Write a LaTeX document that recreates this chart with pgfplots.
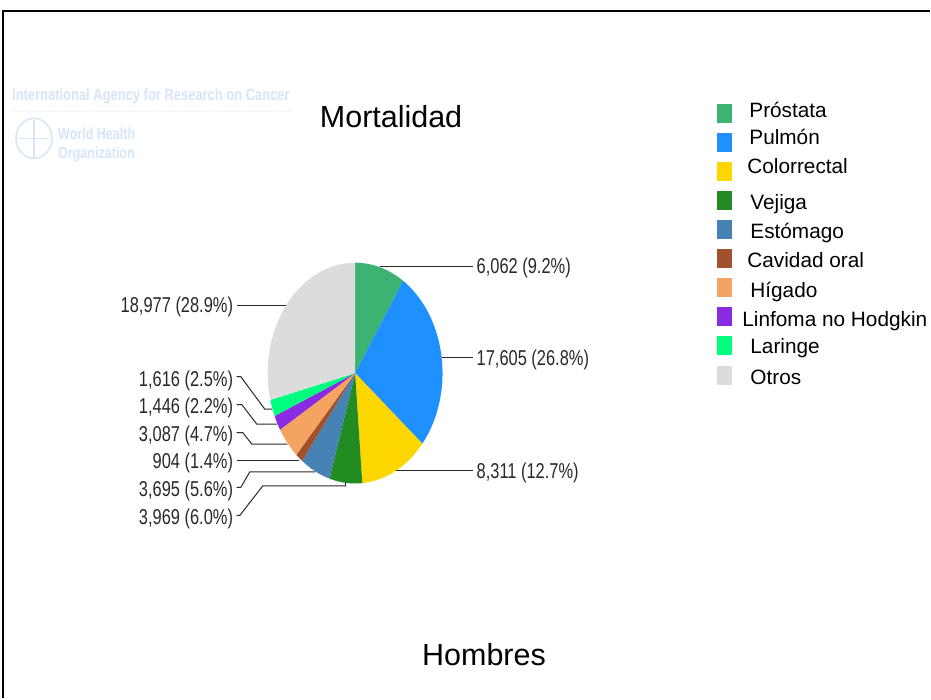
\documentclass[border=0pt]{standalone}
\usepackage{fontspec}
\setmainfont{Liberation Sans}
\newfontfamily\narrowfont[FakeStretch=0.765]{Liberation Sans}
\newfontfamily\wmfont[FakeStretch=0.785]{Liberation Sans}
\usepackage{pgfplots}
\pgfplotsset{compat=1.18}
\definecolor{cProstata}{RGB}{60,179,113}
\definecolor{cPulmon}{RGB}{30,144,255}
\definecolor{cColor}{RGB}{255,215,0}
\definecolor{cVejiga}{RGB}{34,139,34}
\definecolor{cEstomago}{RGB}{70,130,180}
\definecolor{cCavidad}{RGB}{160,82,45}
\definecolor{cHigado}{RGB}{244,164,96}
\definecolor{cLinfoma}{RGB}{138,43,226}
\definecolor{cLaringe}{RGB}{0,255,127}
\definecolor{cOtros}{RGB}{220,220,220}
\definecolor{wm}{RGB}{212,230,247}
\definecolor{lbl}{RGB}{40,40,40}
% slice: cumulative start, cumulative end (deaths), colour; total 65672
\newcommand{\slice}[3]{%
  \pgfkeys{/pgf/fpu=true,/pgf/fpu/output format=fixed}%
  \pgfmathparse{90-360*(#2)/65672}\global\let\sliceA\pgfmathresult
  \pgfmathparse{90-360*(#1)/65672}\global\let\sliceB\pgfmathresult
  \pgfkeys{/pgf/fpu=false}%
  \edef\doslice{\noexpand\addplot[fill=#3, draw=none, domain=\sliceA:\sliceB, samples=61, variable=\noexpand\t] ({355.5+87.5*cos(\noexpand\t)}, {373.5-110.5*sin(\noexpand\t)}) -- (axis cs:355.5,373.5) -- cycle;}%
  \doslice}
\begin{document}
\begin{tikzpicture}
\begin{axis}[
  scale only axis, width=931bp, height=699bp,
  xmin=0, xmax=931, ymin=0, ymax=699, y dir=reverse,
  axis lines=none, clip=false,
]
\path (axis cs:0,0) rectangle (axis cs:931,699);
% frame
\draw[line width=2bp] (axis cs:3.5,699) -- (axis cs:3.5,11) -- (axis cs:931,11);
% watermark
\node[anchor=base west, inner sep=0pt, text=wm, font=\wmfont\bfseries\fontsize{16.5bp}{18bp}\selectfont] at (axis cs:12,100.7) {International Agency for Research on Cancer};
\draw[wm, line width=0.8bp, dotted] (axis cs:12,111.5) -- (axis cs:290,111.5);
\node[anchor=base west, inner sep=0pt, text=wm, font=\wmfont\bfseries\fontsize{16bp}{18bp}\selectfont] at (axis cs:58,140) {World Health};
\node[anchor=base west, inner sep=0pt, text=wm, font=\wmfont\bfseries\fontsize{16bp}{18bp}\selectfont] at (axis cs:58,158.3) {Organization};
\draw[wm, line width=1.5bp] (axis cs:34,138.5) ellipse [x radius=18bp, y radius=20bp];
\draw[wm, line width=1.2bp] (axis cs:34,120) -- (axis cs:34,158);
\draw[wm, line width=1bp] (axis cs:19,138.5) -- (axis cs:49,138.5);
% pie (deaths)
\slice{0}{6062}{cProstata}
\slice{6062}{23667}{cPulmon}
\slice{23667}{31978}{cColor}
\slice{31978}{35947}{cVejiga}
\slice{35947}{39642}{cEstomago}
\slice{39642}{40546}{cCavidad}
\slice{40546}{43633}{cHigado}
\slice{43633}{45079}{cLinfoma}
\slice{45079}{46695}{cLaringe}
\slice{46695}{65672}{cOtros}
% leader lines
\begin{scope}[lbl, line width=1bp]
\draw (axis cs:380.5,267) -- (axis cs:473,267);
\draw (axis cs:442,357.5) -- (axis cs:473,357.5);
\draw (axis cs:396,471.5) -- (axis cs:473,471.5);
\draw (axis cs:286.6,305.5) -- (axis cs:237,305.5);
\draw (axis cs:272.5,409.5) -- (axis cs:265,409.5) -- (axis cs:241,377) -- (axis cs:237,377);
\draw (axis cs:277.5,424.5) -- (axis cs:257,424.5) -- (axis cs:242,405) -- (axis cs:237,405);
\draw (axis cs:287.8,444.5) -- (axis cs:252,444.5) -- (axis cs:243,433) -- (axis cs:237,433);
\draw (axis cs:299.5,460.5) -- (axis cs:237,460.5);
\draw (axis cs:315.5,472.5) -- (axis cs:250,472.5) -- (axis cs:241,488) -- (axis cs:237,488);
\draw (axis cs:346,483) -- (axis cs:346,486.5) -- (axis cs:263,486.5) -- (axis cs:240,516) -- (axis cs:237,516);
\end{scope}
% pie labels
\begin{scope}[every node/.style={inner sep=0pt, text=lbl, font=\narrowfont\fontsize{21.5bp}{24bp}\selectfont}]
\node[anchor=base west] at (axis cs:477,274) {6,062 (9.2\%)};
\node[anchor=base west] at (axis cs:477,365.5) {17,605 (26.8\%)};
\node[anchor=base west] at (axis cs:477,479.5) {8,311 (12.7\%)};
\node[anchor=base east] at (axis cs:233.5,312.7) {18,977 (28.9\%)};
\node[anchor=base east] at (axis cs:233.5,386.7) {1,616 (2.5\%)};
\node[anchor=base east] at (axis cs:233.5,414) {1,446 (2.2\%)};
\node[anchor=base east] at (axis cs:233.5,441.7) {3,087 (4.7\%)};
\node[anchor=base east] at (axis cs:233.5,469.3) {904 (1.4\%)};
\node[anchor=base east] at (axis cs:233.5,497.3) {3,695 (5.6\%)};
\node[anchor=base east] at (axis cs:233.5,525) {3,969 (6.0\%)};
\end{scope}
% titles
\node[anchor=base, inner sep=0pt, font=\fontsize{30.5bp}{34bp}\selectfont] at (axis cs:391.5,127.5) {Mortalidad};
\node[anchor=base, inner sep=0pt, font=\fontsize{30.5bp}{34bp}\selectfont] at (axis cs:484.5,666.5) {Hombres};
% legend
\fill[cProstata] (axis cs:718,104) rectangle (axis cs:733,122.7);
\fill[cPulmon] (axis cs:718,132.7) rectangle (axis cs:733,151.7);
\fill[cColor] (axis cs:718,161.7) rectangle (axis cs:733,180.7);
\fill[cVejiga] (axis cs:718,191) rectangle (axis cs:733,210);
\fill[cEstomago] (axis cs:718,220) rectangle (axis cs:733,239);
\fill[cCavidad] (axis cs:718,249.3) rectangle (axis cs:733,268.3);
\fill[cHigado] (axis cs:718,278.3) rectangle (axis cs:733,297.3);
\fill[cLinfoma] (axis cs:718,307.3) rectangle (axis cs:733,326.7);
\fill[cLaringe] (axis cs:718,336.7) rectangle (axis cs:733,355.7);
\fill[cOtros] (axis cs:718,366) rectangle (axis cs:733,385);
\begin{scope}[every node/.style={anchor=base west, inner sep=0pt, font=\fontsize{20.8bp}{24bp}\selectfont}]
\node at (axis cs:750,117.3) {Próstata};
\node at (axis cs:750,145) {Pulmón};
\node at (axis cs:748,173.3) {Colorrectal};
\node at (axis cs:751,209.3) {Vejiga};
\node at (axis cs:751,238.3) {Estómago};
\node at (axis cs:748,267.7) {Cavidad oral};
\node at (axis cs:751,297.7) {Hígado};
\node at (axis cs:743,326.7) {Linfoma no Hodgkin};
\node at (axis cs:751,354.3) {Laringe};
\node at (axis cs:751,385) {Otros};
\end{scope}
\end{axis}
\end{tikzpicture}
\end{document}
